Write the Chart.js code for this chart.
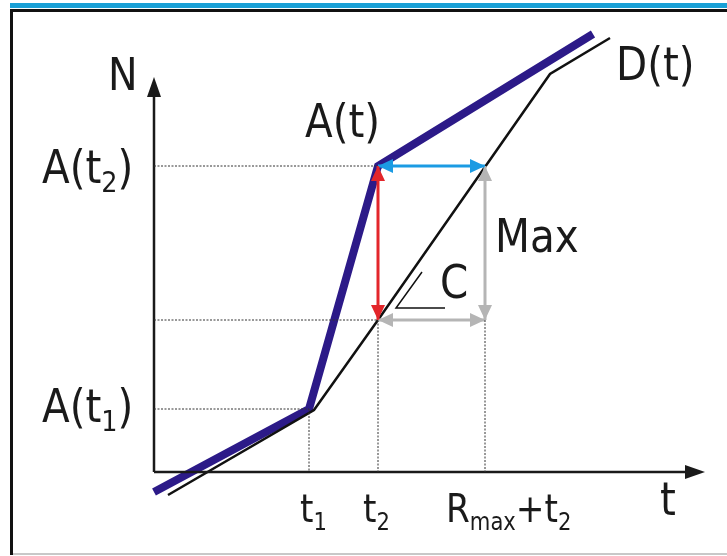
<!DOCTYPE html>
<html>
<head>
<meta charset="utf-8">
<script src="https://cdn.jsdelivr.net/npm/chart.js@4.4.0/dist/chart.umd.min.js"></script>
<style>
  html, body { margin: 0; padding: 0; background: #fff; }
  #wrap { width: 727px; height: 556px; }
</style>
</head>
<body>
<div id="wrap"><canvas id="diagram" width="727" height="556"></canvas></div>
<script>
// values (axis origin = 0,0)
var arrivals = [{x: 0, y: -20}, {x: 155, y: 63}, {x: 224, y: 306}, {x: 439, y: 438}];      // A(t)
var departures = [{x: 14, y: -23}, {x: 160, y: 62}, {x: 224, y: 152}, {x: 396, y: 398}, {x: 456, y: 434}]; // D(t)
var t1 = 155, t2 = 224, rmaxT2 = 331;
var At1 = 63, At2 = 306, Dt2 = 152;
var axisEnd = {x: 551, y: 395};
var angleMark = [{x: 291, y: 164}, {x: 242, y: 164}, {x: 268, y: 200}];

// dotted helper lines
var guides = [
  [{x: 0, y: At1}, {x: t1, y: At1}],
  [{x: t1, y: At1}, {x: t1, y: 0}],
  [{x: 0, y: At2}, {x: t2, y: At2}],
  [{x: 0, y: Dt2}, {x: t2, y: Dt2}],
  [{x: t2, y: Dt2}, {x: t2, y: 0}],
  [{x: rmaxT2, y: Dt2}, {x: rmaxT2, y: 0}]
];

// double arrows: [from, to, colour]
var arrows = [
  [{x: t2, y: At2}, {x: t2, y: Dt2}, '#e3262b'],
  [{x: t2, y: At2}, {x: rmaxT2, y: At2}, '#1b9be3'],
  [{x: rmaxT2, y: At2}, {x: rmaxT2, y: Dt2}, '#b5b5b5'],
  [{x: t2, y: Dt2}, {x: rmaxT2, y: Dt2}, '#b5b5b5']
];

// text: parts with subscript flags, anchor in data units
var labels = [
  {parts: [['N']], x: -46, y: 382, size: 45},
  {parts: [['A(t)']], x: 151, y: 335, size: 46},
  {parts: [['A(t'], ['2', 1], [')']], x: -112, y: 289, size: 46},
  {parts: [['A(t'], ['1', 1], [')']], x: -112, y: 50, size: 46},
  {parts: [['D(t)']], x: 462, y: 392, size: 46},
  {parts: [['Max']], x: 341, y: 220, size: 46},
  {parts: [['C']], x: 286, y: 174, size: 46},
  {parts: [['t'], ['1', 1]], x: 146, y: -50, size: 39},
  {parts: [['t'], ['2', 1]], x: 209, y: -50, size: 39},
  {parts: [['R'], ['max', 1], ['+t'], ['2', 1]], x: 292, y: -50, size: 39},
  {parts: [['t']], x: 506, y: -43, size: 46}
];

var datasets = [];
guides.forEach(function(g) {
  datasets.push({data: g, borderColor: '#333', borderWidth: 1, borderDash: [2, 1.5]});
});
arrows.forEach(function(a) {
  datasets.push({data: [a[0], a[1]], borderColor: a[2], borderWidth: 3});
});
datasets.push({data: [{x: 0, y: 0}, {x: axisEnd.x - 14, y: 0}], borderColor: '#1a1a1a', borderWidth: 2.5});
datasets.push({data: [{x: 0, y: 0}, {x: 0, y: axisEnd.y - 14}], borderColor: '#1a1a1a', borderWidth: 2.5});
datasets.push({data: departures, borderColor: '#111', borderWidth: 2.5});
datasets.push({data: arrivals, borderColor: '#2c1a88', borderWidth: 8});
datasets.push({data: angleMark, borderColor: '#111', borderWidth: 1.5});
datasets.forEach(function(d) {
  d.showLine = true; d.pointRadius = 0; d.fill = false; d.tension = 0;
  d.borderCapStyle = 'butt'; d.borderJoinStyle = 'miter';
});

function head(ctx, tip, from, len, half, colour) {
  var ang = Math.atan2(tip.y - from.y, tip.x - from.x);
  ctx.save();
  ctx.translate(tip.x, tip.y);
  ctx.rotate(ang);
  ctx.fillStyle = colour;
  ctx.beginPath();
  ctx.moveTo(0, 0);
  ctx.lineTo(-len, -half);
  ctx.lineTo(-len, half);
  ctx.closePath();
  ctx.fill();
  ctx.restore();
}

var framePlugin = {
  id: 'frame',
  beforeDraw: function(chart) {
    var ctx = chart.ctx;
    ctx.save();
    ctx.fillStyle = '#fff';
    ctx.fillRect(0, 0, 727, 556);
    ctx.fillStyle = '#1aa0d6';
    ctx.fillRect(10, 3, 717, 5);
    ctx.fillStyle = '#111';
    ctx.fillRect(10, 9, 717, 3);
    ctx.fillRect(10, 9, 3, 546);
    ctx.fillStyle = '#c8c8c8';
    ctx.fillRect(13, 553, 714, 2);
    ctx.restore();
  },
  afterDatasetsDraw: function(chart) {
    var ctx = chart.ctx, xs = chart.scales.x, ys = chart.scales.y;
    function px(p) { return {x: xs.getPixelForValue(p.x), y: ys.getPixelForValue(p.y)}; }
    // arrow heads
    arrows.forEach(function(a) {
      var p0 = px(a[0]), p1 = px(a[1]);
      head(ctx, p0, p1, 15, 7, a[2]);
      head(ctx, p1, p0, 15, 7, a[2]);
    });
    var o = px({x: 0, y: 0});
    head(ctx, px({x: axisEnd.x, y: 0}), o, 20, 7, '#1a1a1a');
    head(ctx, px({x: 0, y: axisEnd.y}), o, 20, 7, '#1a1a1a');
    // labels
    ctx.save();
    ctx.fillStyle = '#1a1a1a';
    ctx.textBaseline = 'alphabetic';
    ctx.textAlign = 'left';
    labels.forEach(function(l) {
      var p = px(l);
      ctx.save();
      ctx.translate(p.x, p.y);
      ctx.scale(0.88, 1);
      var cx = 0;
      l.parts.forEach(function(part) {
        var sub = part[1];
        var sz = sub ? Math.round(l.size * 0.62) : l.size;
        ctx.font = sz + 'px "DejaVu Sans"';
        ctx.fillText(part[0], cx, sub ? l.size * 0.2 : 0);
        cx += ctx.measureText(part[0]).width;
      });
      ctx.restore();
    });
    ctx.restore();
  }
};

var ctx = document.getElementById('diagram').getContext('2d');
var diagram = new Chart(ctx, {
  type: 'scatter',
  data: {datasets: datasets},
  options: {
    responsive: false,
    animation: false,
    devicePixelRatio: 1,
    layout: {padding: 0},
    plugins: {legend: {display: false}, tooltip: {enabled: false}},
    scales: {
      x: {type: 'linear', min: -154, max: 573, display: false},
      y: {type: 'linear', min: -84, max: 472, display: false}
    }
  },
  plugins: [framePlugin]
});
</script>
</body>
</html>
